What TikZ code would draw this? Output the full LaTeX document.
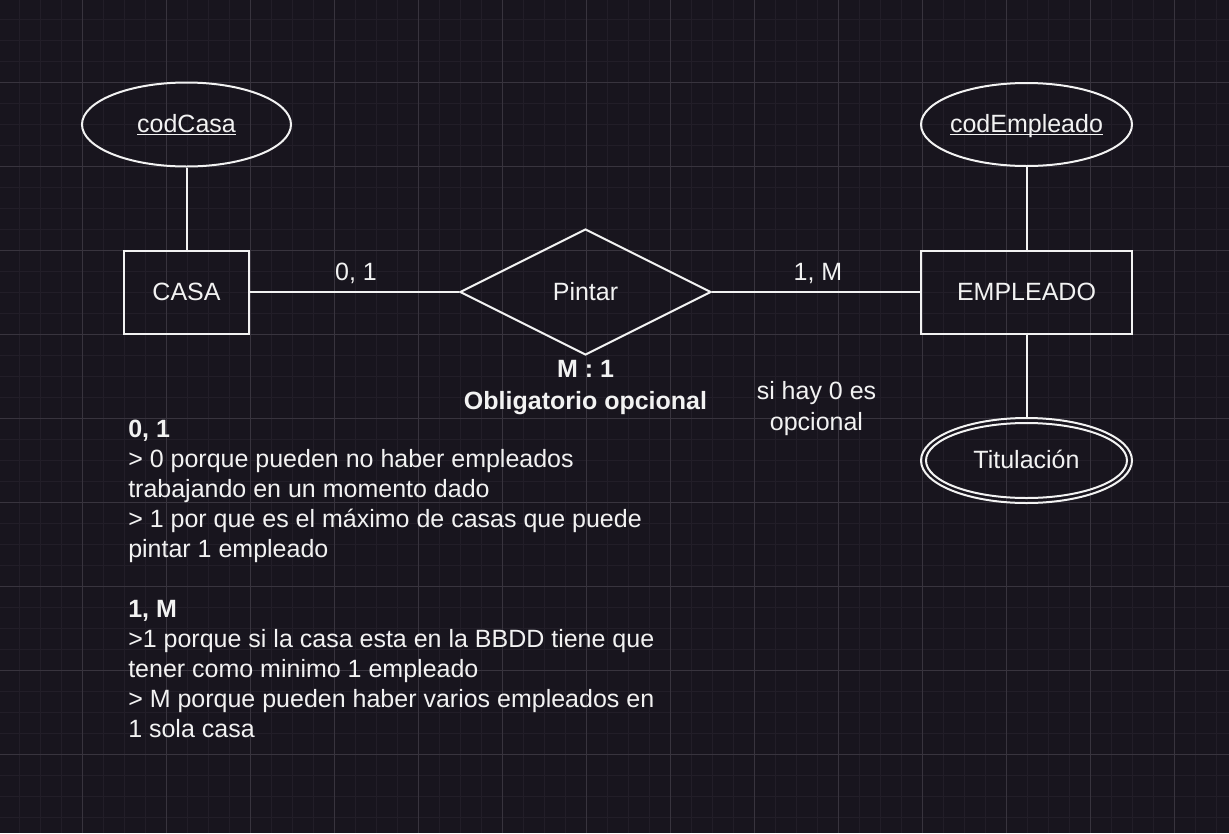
\documentclass[tikz,border=0pt]{standalone}
\usepackage{fontspec}
\setmainfont{Liberation Sans}
\usetikzlibrary{shapes.geometric}
\definecolor{bg}{RGB}{24,21,30}
\definecolor{gminor}{RGB}{34,30,40}
\definecolor{gmajor}{RGB}{56,52,62}
\definecolor{fg}{RGB}{242,242,242}
\newcommand\attrtext[2][0]{\makebox[0pt][c]{\rule{0pt}{12.5pt}\smash{%
  \ifnum#1=1 \setbox0\hbox{#2}\rlap{\rule[-1.9pt]{\wd0}{1.1pt}}\box0 \else #2\fi}}}
\tikzset{
  base/.style={draw=fg, line width=1.5pt, text=fg, inner sep=0pt,
    font=\fontsize{18.75}{22.5}\selectfont},
  entity/.style={base, rectangle, minimum height=62.25pt},
  attr/.style={base, ellipse, minimum width=156.75pt, minimum height=63pt},
  rel/.style={base, diamond, minimum width=188.25pt, minimum height=94.5pt},
  txt/.style={text=fg, inner sep=0pt, font=\fontsize{18.75}{22.5}\selectfont},
  conn/.style={draw=fg, line width=1.5pt},
}
\begin{document}
\begin{tikzpicture}[x=0.75pt, y=-0.75pt]
\fill[bg] (0,0) rectangle (1229,833);
\useasboundingbox (0,0) rectangle (1229,833);
\foreach \i in {0,...,59} {
  \draw[gminor, line width=0.75pt] ({-2+21*\i},0) -- ({-2+21*\i},833);
}
\foreach \i in {0,...,40} {
  \draw[gminor, line width=0.75pt] (0,{-2+21*\i}) -- (1229,{-2+21*\i});
}
\foreach \i in {1,...,14} {
  \draw[gmajor, line width=0.75pt] ({-2+84*\i},0) -- ({-2+84*\i},833);
}
\foreach \i in {1,...,9} {
  \draw[gmajor, line width=0.75pt] (0,{-2+84*\i}) -- (1229,{-2+84*\i});
}

% nodes
\node[attr] (codcasa) at (186.5,124.5) {\attrtext[1]{codCasa}};
\node[entity, minimum width=93.75pt] (casa) at (186.5,292) {CASA};
\node[rel] (pintar) at (585.5,292) {Pintar};
\node[entity, minimum width=158.25pt] (emp) at (1026.5,292) {EMPLEADO};
\node[attr, minimum width=158.25pt, minimum height=62.25pt] (codemp) at (1026.5,124.5) {\attrtext[1]{codEmpleado}};
\node[attr, minimum width=158.25pt, minimum height=63.75pt] (tit) at (1026.5,460.5) {\attrtext{Titulación}};
\draw[fg, line width=1.5pt] (tit.center) ellipse [x radius=100.5, y radius=37.5];

% connectors
\draw[conn] (codcasa) -- (casa);
\draw[conn] (casa) -- (pintar);
\draw[conn] (pintar) -- (emp);
\draw[conn] (codemp) -- (emp);
\draw[conn] (emp) -- (tit);

% labels
\node[txt] (l01) at (356,273) {0, 1};
\node[txt] (l1m) at (818,273) {1, M};
\node[txt, font=\fontsize{18.75}{24}\selectfont\bfseries, align=center] (card) at (585.5,388) {M : 1\\Obligatorio opcional};
\node[txt, align=center, font=\fontsize{18.75}{23}\selectfont] (note) at (816.5,408.5) {si hay 0 es\\opcional};
\node[txt, align=left, anchor=north west] (expl) at (128,420) {\textbf{0, 1}\\
> 0 porque pueden no haber empleados\\
trabajando en un momento dado\\
> 1 por que es el máximo de casas que puede\\
pintar 1 empleado\\
\mbox{}\\
\textbf{1, M}\\
>1 porque si la casa esta en la BBDD tiene que\\
tener como minimo 1 empleado\\
> M porque pueden haber varios empleados en\\
1 sola casa};
\end{tikzpicture}
\end{document}
